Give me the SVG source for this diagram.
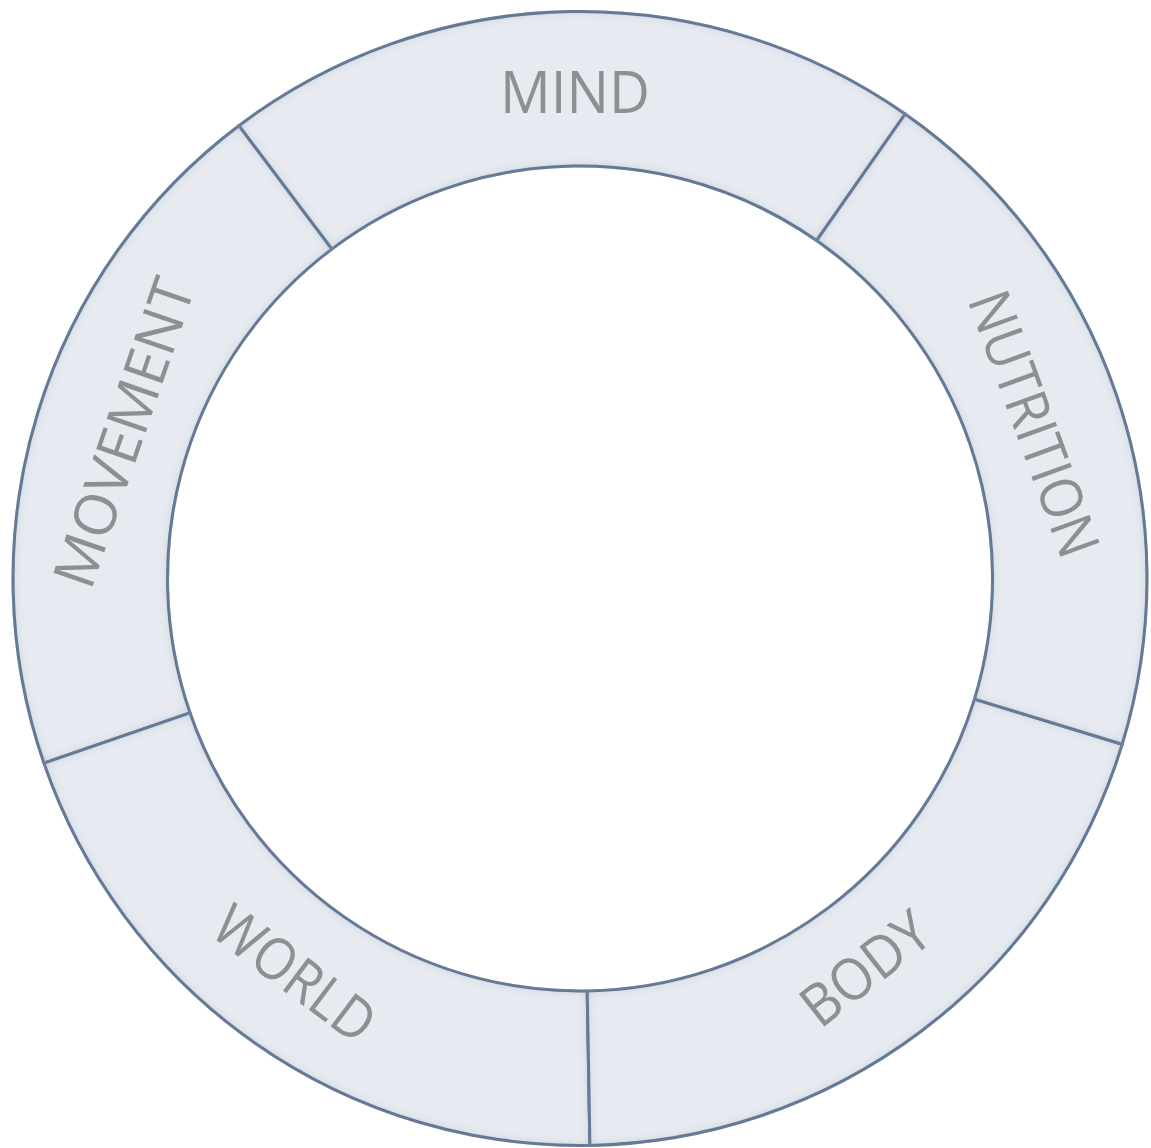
<svg xmlns="http://www.w3.org/2000/svg" width="1151" height="1148" viewBox="0 0 1151 1148">
<style>
.seg{fill:#e7ebf1;stroke:#566d8c;stroke-width:3;stroke-linejoin:round;filter:url(#bevel)}
.lbl{font-family:"Open Sans","Liberation Sans",sans-serif;font-weight:400;font-size:58px;fill:#8e8f91;text-anchor:middle;dominant-baseline:central}
</style>
<defs>
<filter id="bevel" x="-5%" y="-5%" width="110%" height="110%">
<feGaussianBlur in="SourceAlpha" stdDeviation="6" result="b"/>
<feComposite in="SourceAlpha" in2="b" operator="out" result="edge"/>
<feFlood flood-color="#8a9bb2" flood-opacity="0.6"/>
<feComposite in2="edge" operator="in" result="shade"/>
<feMerge><feMergeNode in="SourceGraphic"/><feMergeNode in="shade"/></feMerge>
</filter>
</defs>
<rect width="1151" height="1148" fill="#ffffff"/>
<g id="mind">
<path class="seg" d="M905.2 114.0 A567 567 0 0 0 238.8 125.7 L331.8 249.1 A412.5 412.5 0 0 1 816.6 240.6 Z"/>
<text class="lbl" x="575" y="90" textLength="150" lengthAdjust="spacingAndGlyphs">MIND</text>
</g>
<g id="movement">
<path class="seg" d="M238.8 125.7 A567 567 0 0 0 43.9 763.1 L190.0 712.8 A412.5 412.5 0 0 1 331.8 249.1 Z"/>
<text class="lbl" x="122" y="432" textLength="322" lengthAdjust="spacingAndGlyphs" transform="rotate(-71 122 432)">MOVEMENT</text>
</g>
<g id="world">
<path class="seg" d="M43.9 763.1 A567 567 0 0 0 589.9 1145.4 L587.2 990.9 A412.5 412.5 0 0 1 190.0 712.8 Z"/>
<text class="lbl" x="296" y="972" textLength="186" lengthAdjust="spacingAndGlyphs" transform="rotate(37 296 972)">WORLD</text>
</g>
<g id="body">
<path class="seg" d="M589.9 1145.4 A567 567 0 0 0 1122.2 744.3 L974.5 699.1 A412.5 412.5 0 0 1 587.2 990.9 Z"/>
<text class="lbl" x="864" y="967" textLength="146" lengthAdjust="spacingAndGlyphs" transform="rotate(-38 864 967)">BODY</text>
</g>
<g id="nutrition">
<path class="seg" d="M1122.2 744.3 A567 567 0 0 0 905.2 114.0 L816.6 240.6 A412.5 412.5 0 0 1 974.5 699.1 Z"/>
<text class="lbl" x="1036" y="423" textLength="278" lengthAdjust="spacingAndGlyphs" transform="rotate(70 1036 423)">NUTRITION</text>
</g>
<g id="connectors"></g>
</svg>
